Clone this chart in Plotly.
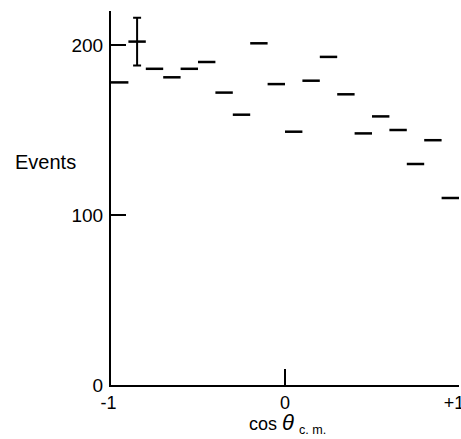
import plotly.graph_objects as go

# Bin edges in cos(theta_cm) and event counts
bin_lo = [-1.0, -0.9, -0.8, -0.7, -0.6, -0.5, -0.4, -0.3, -0.2, -0.1,
          0.0, 0.1, 0.2, 0.3, 0.4, 0.5, 0.6, 0.7, 0.8, 0.9]
bin_hi = [-0.9, -0.8, -0.7, -0.6, -0.5, -0.4, -0.3, -0.2, -0.1, 0.0,
          0.1, 0.2, 0.3, 0.4, 0.5, 0.6, 0.7, 0.8, 0.9, 1.0]
events = [178, 202, 186, 181, 186, 190, 172, 159, 201, 177,
          149, 179, 193, 171, 148, 158, 150, 130, 144, 110]

# Representative statistical error bar shown on the second bin
err_x = [-0.85]
err_y = [202]
err_val = [14]

x_tickvals = [-1, 0, 1]
x_ticktext = ["-1\u00a0", "0", "+1\u00a0\u00a0"]
y_tickvals = [0, 100, 200]
y_ticktext = ["0", "100", "200"]

xs, ys = [], []
for lo, hi, v in zip(bin_lo, bin_hi, events):
    xs += [lo, hi, None]
    ys += [v, v, None]

fig = go.Figure()
fig.add_trace(go.Scatter(x=xs, y=ys, mode="lines",
                         line=dict(color="black", width=2.5),
                         cliponaxis=False, showlegend=False, hoverinfo="skip"))
fig.add_trace(go.Scatter(x=err_x, y=err_y, mode="markers",
                         marker=dict(size=1, color="rgba(0,0,0,0)"),
                         error_y=dict(type="data", array=err_val, color="black",
                                      thickness=2, width=4),
                         cliponaxis=False, showlegend=False, hoverinfo="skip"))

font = dict(family="Liberation Sans, Arial, sans-serif", size=19, color="black")
xfont = dict(family="Liberation Sans, Arial, sans-serif", size=18, color="black")
title_font = dict(family="Liberation Sans, Arial, sans-serif", size=18, color="black")
events_font = dict(family="Liberation Sans, Arial, sans-serif", size=20, color="black")

fig.update_layout(
    width=461, height=439,
    margin=dict(l=111, r=2, t=11, b=54),
    paper_bgcolor="white", plot_bgcolor="white",
    font=font,
    xaxis=dict(range=[-1, 1], showgrid=False, zeroline=False, automargin=False,
               showline=True, linecolor="black", linewidth=2,
               ticks="inside", ticklen=16, tickwidth=2, tickcolor="black",
               tickmode="array", tickvals=x_tickvals, ticktext=x_ticktext,
               tickfont=xfont, ticklabeloverflow="allow"),
    yaxis=dict(range=[0, 220], showgrid=False, zeroline=False, automargin=False,
               showline=True, linecolor="black", linewidth=2,
               ticks="inside", ticklen=15, tickwidth=2, tickcolor="black",
               tickvals=y_tickvals, ticktext=y_ticktext, tickfont=font,
               ticklabelstandoff=2),
    annotations=[
        dict(text="Events", xref="paper", yref="paper", x=-0.2816, y=0.595,
             xanchor="left", yanchor="middle", showarrow=False, font=events_font),
        dict(text="cos <i><span style='font-size:22px'>θ</span></i> <sub>c. m.</sub>",
             xref="paper", yref="paper", x=0.508, y=-0.144,
             xanchor="center", yanchor="bottom", height=24, valign="bottom",
             showarrow=False, font=title_font),
    ],
)

fig.write_html("out.html",
               config={"displayModeBar": False},
               post_script="document.body.style.margin='0';"
                           "document.body.style.overflow='hidden';")
